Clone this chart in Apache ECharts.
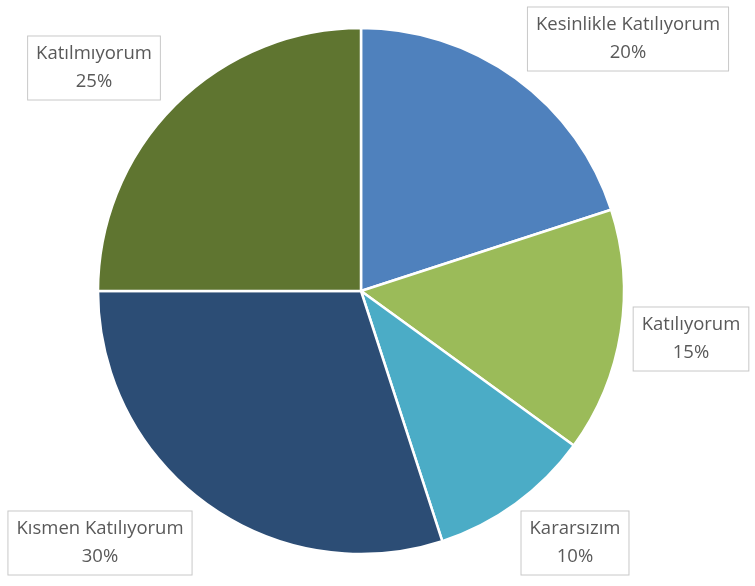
<!DOCTYPE html>
<html>
<head>
<meta charset="utf-8">
<script src="https://cdn.jsdelivr.net/npm/echarts@6/dist/echarts.min.js"></script>
<style>html,body{margin:0;padding:0;background:#fff;}#c{width:755px;height:586px;}</style>
</head>
<body>
<div id="c"></div>
<script>
const categories = ['Kesinlikle Katılıyorum', 'Katılıyorum', 'Kararsızım', 'Kısmen Katılıyorum', 'Katılmıyorum'];
const values = [20, 15, 10, 30, 25];
const colors = ['#4F81BD', '#9BBB59', '#4BACC6', '#2C4D75', '#5F7530'];
const labelCenters = [[628, 39], [691, 339], [575, 543], [100, 543], [94, 68]];

const chart = echarts.init(document.getElementById('c'));
chart.setOption({
  backgroundColor: '#fff',
  animation: false,
  series: [{
    type: 'pie',
    center: [361, 291],
    radius: 263,
    startAngle: 90,
    clockwise: true,
    data: categories.map((n, i) => ({ name: n, value: values[i], itemStyle: { color: colors[i] } })),
    itemStyle: { borderColor: '#fff', borderWidth: 2.5 },
    label: {
      show: true,
      position: 'inside',
      formatter: '{b}\n{d}%',
      fontFamily: 'Open Sans',
      fontSize: 18.5,
      lineHeight: 28,
      color: '#595959',
      align: 'center',
      overflow: 'none',
      backgroundColor: '#fff',
      borderColor: '#c8c8c8',
      borderWidth: 1,
      padding: [4, 8, 3, 8]
    },
    labelLine: { show: false },
    labelLayout: function (p) {
      const c = labelCenters[p.dataIndex];
      return { x: c[0], y: c[1], align: 'center', verticalAlign: 'middle' };
    }
  }]
});
</script>
</body>
</html>
